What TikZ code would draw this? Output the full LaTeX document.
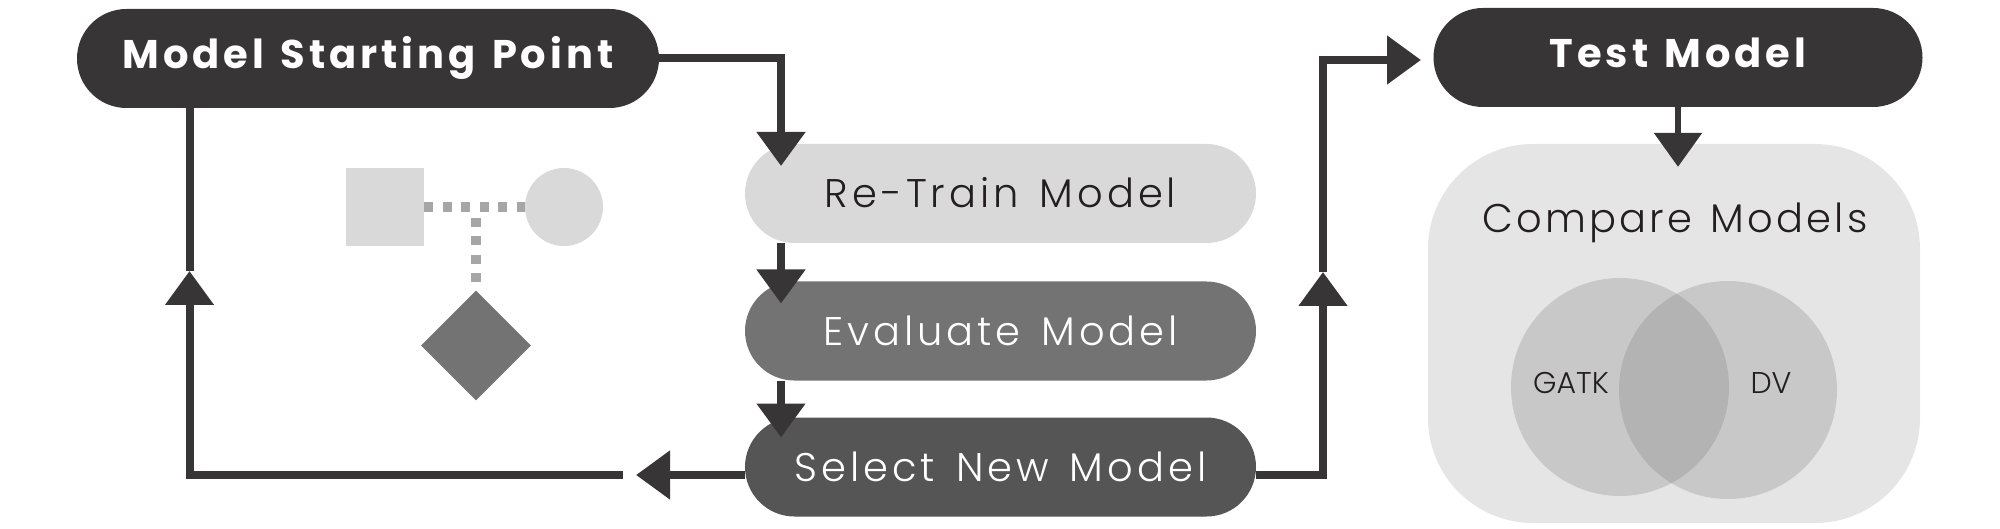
\documentclass[tikz,border=0pt]{standalone}
\usepackage{fontspec}
\setmainfont{Poppins}
\newfontfamily\popbold{Poppins}[LetterSpace=10,WordSpace=1.3]
\newfontfamily\poplight{Poppins Light}[LetterSpace=10,WordSpace=1.4]
\newfontfamily\popcmp{Poppins Light}[LetterSpace=8,WordSpace=1.3]
\newfontfamily\popn{Poppins Light}
\usetikzlibrary{arrows.meta,shapes.geometric,calc}
\definecolor{dark}{HTML}{383537}
\definecolor{pillA}{HTML}{D9D9D9}
\definecolor{pillB}{HTML}{737373}
\definecolor{pillC}{HTML}{555555}
\definecolor{txtdark}{HTML}{231F20}
\definecolor{cmpbg}{HTML}{E5E5E5}
\definecolor{venncol}{HTML}{C8C8C8}
\definecolor{vennmid}{HTML}{B3B3B3}
\definecolor{dotcol}{HTML}{A6A6A6}
\begin{document}
\begin{tikzpicture}[x=1pt,y=-1pt,
  pill/.style={rounded corners=49.5pt, minimum height=99pt, inner sep=0pt, outer sep=0pt},
  boldtxt/.style={font=\popbold\bfseries\fontsize{40}{48}\selectfont, text=white, text height=28pt, text depth=8pt},
  lighttxt/.style={font=\poplight\fontsize{40}{48}\selectfont, text height=28pt, text depth=0pt},
  conn/.style={draw=dark, line width=8pt},
  tipped/.style={-{Triangle[length=34pt,width=47pt]}},
  dotline/.style={draw=dotcol, line width=9.5pt, dash pattern=on 9pt off 9.5pt},
  venn/.style={circle, fill=venncol, minimum size=218pt, inner sep=0pt},
  vlabel/.style={font=\popn\fontsize{30}{36}\selectfont, text=txtdark, inner sep=0pt}
]
\useasboundingbox (0,0) rectangle (2000,529);

% pills
\node[pill, boldtxt, fill=dark, minimum width=582pt] (msp) at (368,58.5) {Model Starting Point};
\node[pill, boldtxt, fill=dark, minimum width=489pt] (test) at (1678,57.5) {Test Model};
\node[pill, lighttxt, fill=pillA, text=txtdark, minimum width=511pt] (rt) at (1000.5,193.5) {Re-Train Model};
\node[pill, lighttxt, fill=pillB, text=white, minimum width=511pt] (ev) at (1000.5,331) {Evaluate Model};
\node[pill, lighttxt, fill=pillC, text=white, minimum width=511pt] (sel) at (1000.5,467) {Select New Model};

% compare box
\node[fill=cmpbg, rounded corners=105pt, minimum width=492pt, minimum height=379pt, inner sep=0pt] (cmp) at (1674,333.5) {};
\node[font=\popcmp\fontsize{40}{48}\selectfont, text=txtdark, anchor=base, inner sep=0pt] (cmpt) at (1675,233) {Compare Models};
\node[venn] (vl) at (1620,387) {};
\node[venn] (vr) at (1728,390) {};
\begin{scope}
  \clip (1620,387) circle[radius=109pt];
  \fill[vennmid] (1728,390) circle[radius=109pt];
\end{scope}
\node[vlabel, anchor=base] (gatk) at (1571,393) {GATK};
\node[vlabel, anchor=base] (dv) at (1771,393) {DV};

% icons
\node[fill=pillA, minimum size=78pt, inner sep=0pt] (sq) at (385,207) {};
\node[circle, fill=pillA, minimum size=78pt, inner sep=0pt] (ci) at (564,207) {};
\node[diamond, fill=pillB, minimum width=110pt, minimum height=110pt, inner sep=0pt, aspect=1] (dm) at (476,345.5) {};
\coordinate (tj) at (476,218);
\draw[dotline] (sq.east) -- (ci.west);
\draw[dotline] (tj) -- (dm.north);

% connectors
\coordinate (rtt) at (781,166);
\draw[conn, tipped] (msp.east) -| (rtt);
\draw[conn, tipped] (rt.south -| rtt) -- ($(ev.north -| rtt)+(0,22)$);
\draw[conn, tipped] (ev.south -| rtt) -- ($(sel.north -| rtt)+(0,20)$);
\draw[conn, tipped, line width=6pt] (test.south) -- ($(test.south |- cmp.north)+(0,23)$);

\coordinate (lt) at (636,475);
\coordinate (lb) at (623,475);
\coordinate (lm) at (189.5,271);
\draw[conn, tipped] (sel.west |- lt) -- (lt);
\draw[conn, tipped] (lb) -| (lm);
\draw[conn] (lm) -- (lm |- msp.south);

\coordinate (rs) at (1323,475);
\coordinate (rm) at (1323,272);
\coordinate (tt) at (1421,60);
\draw[conn, tipped] (sel.east |- rs) -| (rm);
\draw[conn, tipped] (rm) |- (tt);
\end{tikzpicture}
\end{document}
